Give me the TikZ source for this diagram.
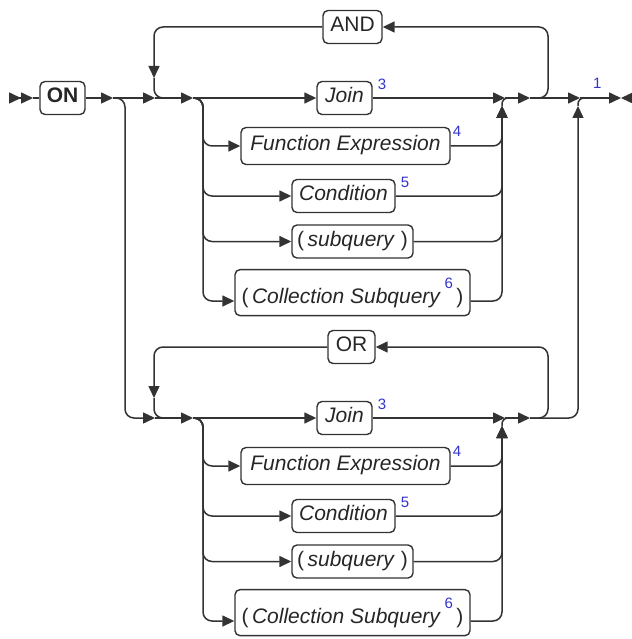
\documentclass[tikz,border=0pt]{standalone}
\usepackage{fontspec}
\setmainfont{Liberation Sans}
\usepackage{tikz}
\usetikzlibrary{arrows.meta}
\usepackage{xcolor}
\definecolor{rail}{rgb}{0.2,0.2,0.2}
\definecolor{refblue}{rgb}{0.2,0.2,0.8}

\newcommand{\supnum}[1]{\raisebox{15pt}{\fontsize{15}{15}\selectfont\color{refblue}#1}}

\begin{document}
\begin{tikzpicture}[x=1pt, y=-1pt,
		t/.style	= {rectangle,	rounded corners=5pt,	draw=rail,	line width=1.4pt,	text=black!85,	font=\fontsize{21}{25}\selectfont,	minimum height=33pt,	text height=14pt,	text depth=5pt,	inner xsep=0pt,	inner ysep=7pt},
		num/.style	= {text=refblue,	font=\fontsize{15}{15}\selectfont,	inner sep=0pt,	anchor=north west},
		r/.style	= {-{Triangle[length=12pt, width=11pt]},	draw=rail,	line width=1.5pt,	rounded corners=9pt},
		p/.style	= {draw=rail,	line width=1.5pt,	rounded corners=9pt}
		]
		\useasboundingbox (0, 0) rectangle (631, 639);
		
		%Nodes
		\node[t, minimum width=45pt, font=\fontsize{21}{25}\selectfont\bfseries]	(on)	at	(62.5, 98)	{ON};
		
		\node[t, minimum width=59pt]	(and)	at	(352.5, 27)		{AND};
		\node[t, minimum width=55pt]	(join1)	at	(344.5, 98)		{\textit{Join}};
		\node[t, minimum width=209pt, minimum height=37pt]	(fexp1)	at	(345.5, 146)	{\textit{Function Expression}};
		\node[t, minimum width=103pt]	(cond1)	at	(343.5, 196)	{\textit{Condition}};
		\node[t, minimum width=121pt]	(subq1)	at	(352.5, 241.5)	{(\,\textit{subquery}\ )};
		\node[t, minimum width=235pt, text height=27pt, anchor=mid]	(coll1)	at	(352.5, 301)	{(\,\textit{Collection Subquery}\,\supnum{6}\,)};
		
		\node[t, minimum width=47pt]	(or)	at	(351.5, 347)	{OR};
		\node[t, minimum width=55pt]	(join2)	at	(344.5, 418)	{\textit{Join}};
		\node[t, minimum width=209pt, minimum height=37pt]	(fexp2)	at	(345.5, 466)	{\textit{Function Expression}};
		\node[t, minimum width=103pt]	(cond2)	at	(343.5, 516)	{\textit{Condition}};
		\node[t, minimum width=121pt]	(subq2)	at	(352.5, 561.5)	{(\,\textit{subquery}\ )};
		\node[t, minimum width=235pt, text height=27pt, anchor=mid]	(coll2)	at	(352.5, 621)	{(\,\textit{Collection Subquery}\,\supnum{6}\,)};
		
		% footnote numbers
		\node[num]	(n3a)	at	([xshift=5pt, yshift=2pt]join1.north east)	{3};
		\node[num]	(n4a)	at	([xshift=2pt, yshift=1pt]fexp1.north east)	{4};
		\node[num]	(n5a)	at	([xshift=5pt, yshift=2pt]cond1.north east)	{5};
		\node[num]	(n3b)	at	([xshift=5pt, yshift=2pt]join2.north east)	{3};
		\node[num]	(n4b)	at	([xshift=2pt, yshift=1pt]fexp2.north east)	{4};
		\node[num]	(n5b)	at	([xshift=5pt, yshift=2pt]cond2.north east)	{5};
		\node[num]	(n1)	at	(593, 78)	{1};
		
		%Coordinates
		\coordinate	(start)	at	(9, 98);
		\coordinate	(entry)	at	(33, 98);
		\coordinate	(a1)	at	(113, 98);
		\coordinate	(fk)	at	(125, 98);
		\coordinate	(fkb)	at	(125, 418);
		
		\coordinate	(a2)	at	(155, 98);
		\coordinate	(a3)	at	(193, 98);
		\coordinate	(sp1)	at	(203, 98);
		\coordinate	(a4)	at	(505, 98);
		\coordinate	(mg1)	at	(502, 106);
		\coordinate	(mo1)	at	(514, 98);
		\coordinate	(a5)	at	(530, 98);
		\coordinate	(lp1)	at	(548, 98);
		\coordinate	(lt1)	at	(548, 27);
		\coordinate	(ll1)	at	(154, 27);
		\coordinate	(ld1)	at	(154, 78);
		\coordinate	(lm1)	at	(172, 98);
		
		\coordinate	(b2)	at	(155, 418);
		\coordinate	(b3)	at	(193, 418);
		\coordinate	(sp2)	at	(203, 418);
		\coordinate	(b4)	at	(505, 418);
		\coordinate	(mg2)	at	(502, 426);
		\coordinate	(mo2)	at	(514, 418);
		\coordinate	(b5)	at	(530, 418);
		\coordinate	(lp2)	at	(548, 418);
		\coordinate	(lt2)	at	(548, 347);
		\coordinate	(ll2)	at	(154, 347);
		\coordinate	(ld2)	at	(154, 398);
		\coordinate	(lm2)	at	(172, 418);
		
		\coordinate	(a6)	at	(580, 98);
		\coordinate	(cr)	at	(578, 418);
		\coordinate	(mgE)	at	(578, 106);
		\coordinate	(moE)	at	(590, 98);
		\coordinate	(stop)	at	(621, 98);
		\coordinate	(stopR)	at	(632, 98);
		
		%Lines
		\draw[p, -{Triangle[length=12pt, width=11pt] Triangle[length=12pt, width=11pt]}]	(start)	--	(entry);
		\draw[p]	(entry)	--	(on.west);
		\draw[r]	(on.east)	--	(a1);
		\draw[r]	(a1)	--	(a2);
		\draw[r]	(a1)	--	(fk)	--	(fkb)	--	(b2);
		
		% AND block
		\draw[r]	(a2)	--	(a3);
		\draw[r]	(a3)	--	(join1.west);
		\draw[r]	(a3)	--	(sp1)	|-	(fexp1.west);
		\draw[r]	(a3)	--	(sp1)	|-	(cond1.west);
		\draw[r]	(a3)	--	(sp1)	|-	(subq1.west);
		\draw[r]	(a3)	--	(sp1)	|-	(coll1.mid west);
		
		\draw[r]	(join1.east)	--	(a4);
		\draw[r]	(fexp1.east)	-|	(mg1);
		\draw[r]	(cond1.east)	-|	(mg1);
		\draw[r]	(subq1.east)	-|	(mg1);
		\draw[r]	(coll1.mid east)	-|	(mg1);
		\draw[p, rounded corners=6pt]	(mg1)	|-	(mo1);
		
		\draw[r]	(a4)	--	(a5);
		\draw[r]	(a5)	--	(lp1)	--	(lt1)	--	(and.east);
		\draw[r]	(and.west)	--	(ll1)	--	(ld1);
		\draw[p]	(ld1)	|-	(lm1);
		\draw[r]	(a5)	--	(a6);
		
		% OR block
		\draw[r]	(b2)	--	(b3);
		\draw[r]	(b3)	--	(join2.west);
		\draw[r]	(b3)	--	(sp2)	|-	(fexp2.west);
		\draw[r]	(b3)	--	(sp2)	|-	(cond2.west);
		\draw[r]	(b3)	--	(sp2)	|-	(subq2.west);
		\draw[r]	(b3)	--	(sp2)	|-	(coll2.mid west);
		
		\draw[r]	(join2.east)	--	(b4);
		\draw[r]	(fexp2.east)	-|	(mg2);
		\draw[r]	(cond2.east)	-|	(mg2);
		\draw[r]	(subq2.east)	-|	(mg2);
		\draw[r]	(coll2.mid east)	-|	(mg2);
		\draw[p, rounded corners=6pt]	(mg2)	|-	(mo2);
		
		\draw[r]	(b4)	--	(b5);
		\draw[r]	(b5)	--	(lp2)	--	(lt2)	--	(or.east);
		\draw[r]	(or.west)	--	(ll2)	--	(ld2);
		\draw[p]	(ld2)	|-	(lm2);
		\draw[r]	(b5)	--	(cr)	--	(mgE);
		\draw[p, rounded corners=6pt]	(mgE)	|-	(moE);
		
		% end
		\draw[r]	(a6)	--	(stop);
		\draw[r]	(stopR)	--	(stop);
	\end{tikzpicture}
\end{document}
